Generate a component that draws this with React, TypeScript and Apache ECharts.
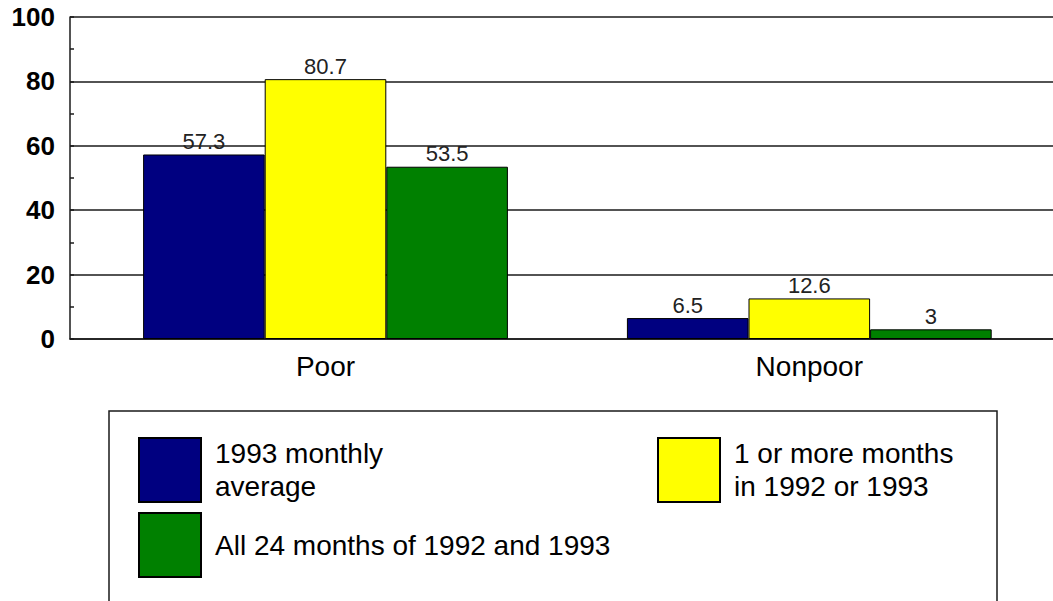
import React, { useEffect, useRef } from "react";
import * as echarts from "echarts";

const categories = ["Poor", "Nonpoor"];
const seriesNames = [
  "1993 monthly average",
  "1 or more months in 1992 or 1993",
  "All 24 months of 1992 and 1993",
];
const legendLabels = [
  "1993 monthly\naverage",
  "1 or more months\nin 1992 or 1993",
  "All 24 months of 1992 and 1993",
];
const monthlyAverage = [57.3, 6.5];
const oneOrMore = [80.7, 12.6];
const all24 = [53.5, 3];
const colors = ["#000080", "#FFFF00", "#008000"];

const FONT = "'Liberation Sans', Arial, Helvetica, sans-serif";
const LINE = "#1a1a1a";

export default function App() {
  const ref = useRef<HTMLDivElement>(null);
  useEffect(() => {
    if (!ref.current) return;
    const chart = echarts.init(ref.current, undefined, { renderer: "svg" });
    const values = [monthlyAverage, oneOrMore, all24];
    const legendPos = [
      { left: 138, top: 437 },
      { left: 657, top: 437 },
      { left: 138, top: 512 },
    ];
    chart.setOption({
      animation: false,
      backgroundColor: "#ffffff",
      grid: [
        { left: 70, right: 0, top: 17, bottom: 262 },
        { left: 83.6, right: 1.8, top: 17, bottom: 262 },
      ],
      xAxis: [
        {
          gridIndex: 0,
          type: "category",
          data: [""],
          axisLine: { show: true, lineStyle: { color: LINE, width: 1.5 } },
          axisTick: { show: false },
          axisLabel: { show: false },
          splitLine: { show: false },
        },
        {
          gridIndex: 1,
          type: "category",
          data: categories,
          axisLine: { show: false },
          axisTick: {
            show: true,
            inside: true,
            alignWithLabel: true,
            length: 10,
            lineStyle: { color: LINE, width: 1.5 },
          },
          axisLabel: {
            margin: 13,
            fontSize: 28,
            fontFamily: FONT,
            color: "#000",
          },
          splitLine: { show: false },
        },
      ],
      yAxis: [
        {
          gridIndex: 0,
          type: "value",
          min: 0,
          max: 100,
          interval: 20,
          axisLine: { show: true, lineStyle: { color: LINE, width: 1.5 } },
          axisTick: {
            show: true,
            inside: true,
            length: 4,
            lineStyle: { color: LINE, width: 1.5 },
          },
          minorTick: {
            show: true,
            splitNumber: 2,
            length: 4,
            lineStyle: { color: LINE, width: 1.5 },
          },
          splitLine: { show: true, lineStyle: { color: LINE, width: 1.5 } },
          axisLabel: {
            margin: 15,
            fontSize: 26,
            fontWeight: "bold",
            fontFamily: FONT,
            color: "#000",
          },
        },
        {
          gridIndex: 1,
          type: "value",
          min: 0,
          max: 100,
          interval: 20,
          show: false,
        },
      ],
      legend: seriesNames.map((name, i) => ({
        data: [name],
        left: legendPos[i].left,
        top: legendPos[i].top,
        padding: 0,
        itemWidth: 62,
        itemHeight: 64,
        icon: "rect",
        selectedMode: false,
        formatter: () => legendLabels[i],
        textStyle: {
          fontSize: 28,
          lineHeight: 33,
          fontFamily: FONT,
          color: "#000",
          padding: [0, 0, 0, 9],
        },
      })),
      graphic: [
        {
          type: "rect",
          z: -1,
          shape: { x: 109, y: 411, width: 888, height: 220 },
          style: { fill: "#ffffff", stroke: LINE, lineWidth: 1.5 },
        },
      ],
      series: seriesNames.map((name, i) => ({
        name,
        type: "bar",
        xAxisIndex: 1,
        yAxisIndex: 1,
        data: values[i],
        barGap: "0%",
        barCategoryGap: "24.6%",
        itemStyle: { color: colors[i], borderColor: "#000", borderWidth: 1 },
        label: {
          show: true,
          position: "top",
          distance: 2,
          fontSize: 22,
          fontFamily: FONT,
          color: "#222",
        },
      })),
    });
    return () => chart.dispose();
  }, []);
  return (
    <div
      ref={ref}
      style={{ position: "absolute", left: 0, top: 0, width: 1053, height: 601 }}
    />
  );
}
